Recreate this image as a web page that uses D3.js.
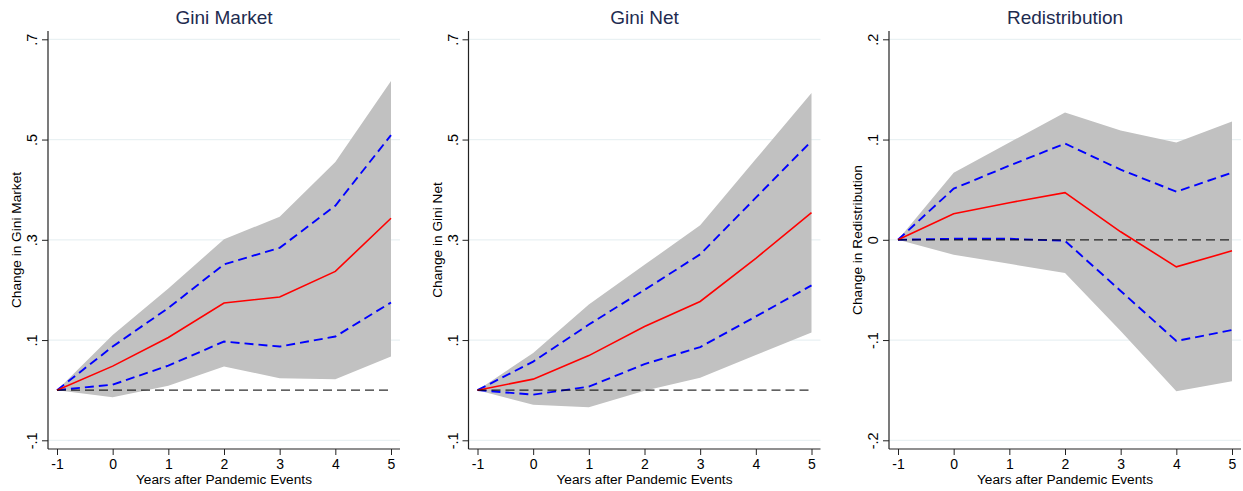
<!DOCTYPE html>
<html>
<head>
<meta charset="utf-8">
<script src="https://cdn.jsdelivr.net/npm/d3@7"></script>
<style>
  html, body { margin: 0; padding: 0; background: #fff; }
  svg { display: block; }
  text { font-family: "Liberation Sans", Arial, Helvetica, sans-serif; }
</style>
</head>
<body>
<script>
// ---------------- data ----------------
const years = [-1, 0, 1, 2, 3, 4, 5];
const xTickLabels = ["-1", "0", "1", "2", "3", "4", "5"];

const panelTitles = ["Gini Market", "Gini Net", "Redistribution"];
const yTitles = ["Change in Gini Market", "Change in Gini Net", "Change in Redistribution"];
const xTitle = "Years after Pandemic Events";

// Gini Market
const gmCoef    = [0, 0.048, 0.105, 0.174, 0.186, 0.237, 0.343];
const gmUpper90 = [0, 0.087, 0.164, 0.251, 0.284, 0.368, 0.509];
const gmLower90 = [0, 0.011, 0.049, 0.097, 0.087, 0.107, 0.175];
const gmUpper95 = [0, 0.110, 0.203, 0.301, 0.346, 0.455, 0.617];
const gmLower95 = [0, -0.014, 0.009, 0.047, 0.024, 0.022, 0.067];

// Gini Net
const gnCoef    = [0, 0.022, 0.069, 0.127, 0.177, 0.263, 0.354];
const gnUpper90 = [0, 0.057, 0.131, 0.200, 0.271, 0.384, 0.497];
const gnLower90 = [0, -0.009, 0.007, 0.052, 0.086, 0.147, 0.209];
const gnUpper95 = [0, 0.074, 0.171, 0.250, 0.329, 0.461, 0.593];
const gnLower95 = [0, -0.029, -0.034, -0.001, 0.025, 0.070, 0.115];

// Redistribution
const rdCoef    = [0, 0.026, 0.037, 0.047, 0.008, -0.027, -0.011];
const rdUpper90 = [0, 0.051, 0.074, 0.096, 0.070, 0.048, 0.067];
const rdLower90 = [0, 0.001, 0.001, -0.001, -0.051, -0.101, -0.090];
const rdUpper95 = [0, 0.067, 0.097, 0.127, 0.109, 0.097, 0.118];
const rdLower95 = [0, -0.015, -0.024, -0.033, -0.091, -0.151, -0.141];

const giniTicks = [0.7, 0.5, 0.3, 0.1, -0.1];
const giniTickLabels = [".7", ".5", ".3", ".1", "-.1"];
const redTicks = [0.2, 0.1, 0, -0.1, -0.2];
const redTickLabels = [".2", ".1", "0", "-.1", "-.2"];

// ---------------- layout ----------------
const W = 1243, H = 491;
const svg = d3.select("body").append("svg").attr("width", W).attr("height", H);

const panels = [
  { left: 48,    coef: gmCoef, u90: gmUpper90, l90: gmLower90, u95: gmUpper95, l95: gmLower95,
    ticks: giniTicks, labels: giniTickLabels },
  { left: 468.5, coef: gnCoef, u90: gnUpper90, l90: gnLower90, u95: gnUpper95, l95: gnLower95,
    ticks: giniTicks, labels: giniTickLabels },
  { left: 889,   coef: rdCoef, u90: rdUpper90, l90: rdLower90, u95: rdUpper95, l95: rdLower95,
    ticks: redTicks, labels: redTickLabels }
];

const plotTop = 31, plotBottom = 449, plotW = 352;
const tickTopPx = 39.3, tickBottomPx = 440.3;

panels.forEach((p, pi) => {
  const L = p.left;
  const x = d3.scaleLinear().domain([-1, 5]).range([L + 9, L + 343]);
  const yDom = d3.extent(p.ticks);
  const y = d3.scaleLinear().domain(yDom).range([tickBottomPx, tickTopPx]);

  const g = svg.append("g");

  // gridlines
  g.selectAll("line.grid").data(p.ticks).enter().append("line")
    .attr("x1", L).attr("x2", L + plotW)
    .attr("y1", d => y(d)).attr("y2", d => y(d))
    .attr("stroke", "#e9f1f3").attr("stroke-width", 1.2);

  // confidence band
  const area = d3.area()
    .x((d, i) => x(years[i]))
    .y0((d, i) => y(p.l95[i]))
    .y1((d, i) => y(p.u95[i]));
  g.append("path").datum(p.u95).attr("d", area).attr("fill", "#c1c1c1");

  const line = arr => d3.line().x((d, i) => x(years[i])).y(d => y(d))(arr);

  // 90% lines (blue dashed)
  [p.u90, p.l90].forEach(arr => {
    g.append("path").attr("d", line(arr))
      .attr("fill", "none").attr("stroke", "#0000ff")
      .attr("stroke-width", 1.9).attr("stroke-dasharray", "9,5");
  });

  // coefficient (red)
  g.append("path").attr("d", line(p.coef))
    .attr("fill", "none").attr("stroke", "#ff0000").attr("stroke-width", 1.6);

  // zero line
  g.append("line")
    .attr("x1", x(years[0])).attr("x2", x(years[years.length - 1]))
    .attr("y1", y(0)).attr("y2", y(0))
    .attr("stroke", "#000").attr("stroke-opacity", 0.82)
    .attr("stroke-width", 1.2).attr("stroke-dasharray", "9,5");

  // y axis
  const yAxis = d3.axisLeft(y).tickValues(p.ticks)
    .tickFormat((d, i) => p.labels[i]).tickSize(6).tickSizeOuter(0).tickPadding(4);
  const ya = g.append("g").attr("transform", `translate(${L},0)`).call(yAxis);
  ya.select(".domain").remove();
  ya.selectAll(".tick line").attr("stroke", "#222").attr("stroke-width", 1);
  ya.selectAll(".tick text")
    .attr("x", null).attr("dy", null)
    .attr("transform", "translate(-11,0) rotate(-90)")
    .attr("text-anchor", "middle")
    .attr("font-size", 14.5).attr("fill", "#000");
  g.append("line").attr("x1", L).attr("x2", L).attr("y1", plotTop).attr("y2", plotBottom)
    .attr("stroke", "#222").attr("stroke-width", 1.2);

  // x axis
  const xAxis = d3.axisBottom(x).tickValues(years)
    .tickFormat((d, i) => xTickLabels[i]).tickSize(6).tickSizeOuter(0).tickPadding(4);
  const xa = g.append("g").attr("transform", `translate(0,${plotBottom})`).call(xAxis);
  xa.select(".domain").remove();
  xa.selectAll(".tick line").attr("stroke", "#222");
  xa.selectAll(".tick text").attr("font-size", 14).attr("fill", "#000");
  g.append("line").attr("x1", L).attr("x2", L + plotW).attr("y1", plotBottom).attr("y2", plotBottom)
    .attr("stroke", "#222").attr("stroke-width", 1.2);

  // titles
  g.append("text").attr("x", L + plotW / 2).attr("y", 24)
    .attr("text-anchor", "middle").attr("font-size", 19).attr("fill", "#1e2b4f")
    .text(panelTitles[pi]);
  g.append("text").attr("x", L + plotW / 2).attr("y", 484)
    .attr("text-anchor", "middle").attr("font-size", 13.7).attr("fill", "#000")
    .text(xTitle);
  g.append("text")
    .attr("transform", `translate(${L - 27},${(plotTop + plotBottom) / 2}) rotate(-90)`)
    .attr("text-anchor", "middle").attr("font-size", 13.7).attr("fill", "#000")
    .text(yTitles[pi]);
});
</script>
</body>
</html>
